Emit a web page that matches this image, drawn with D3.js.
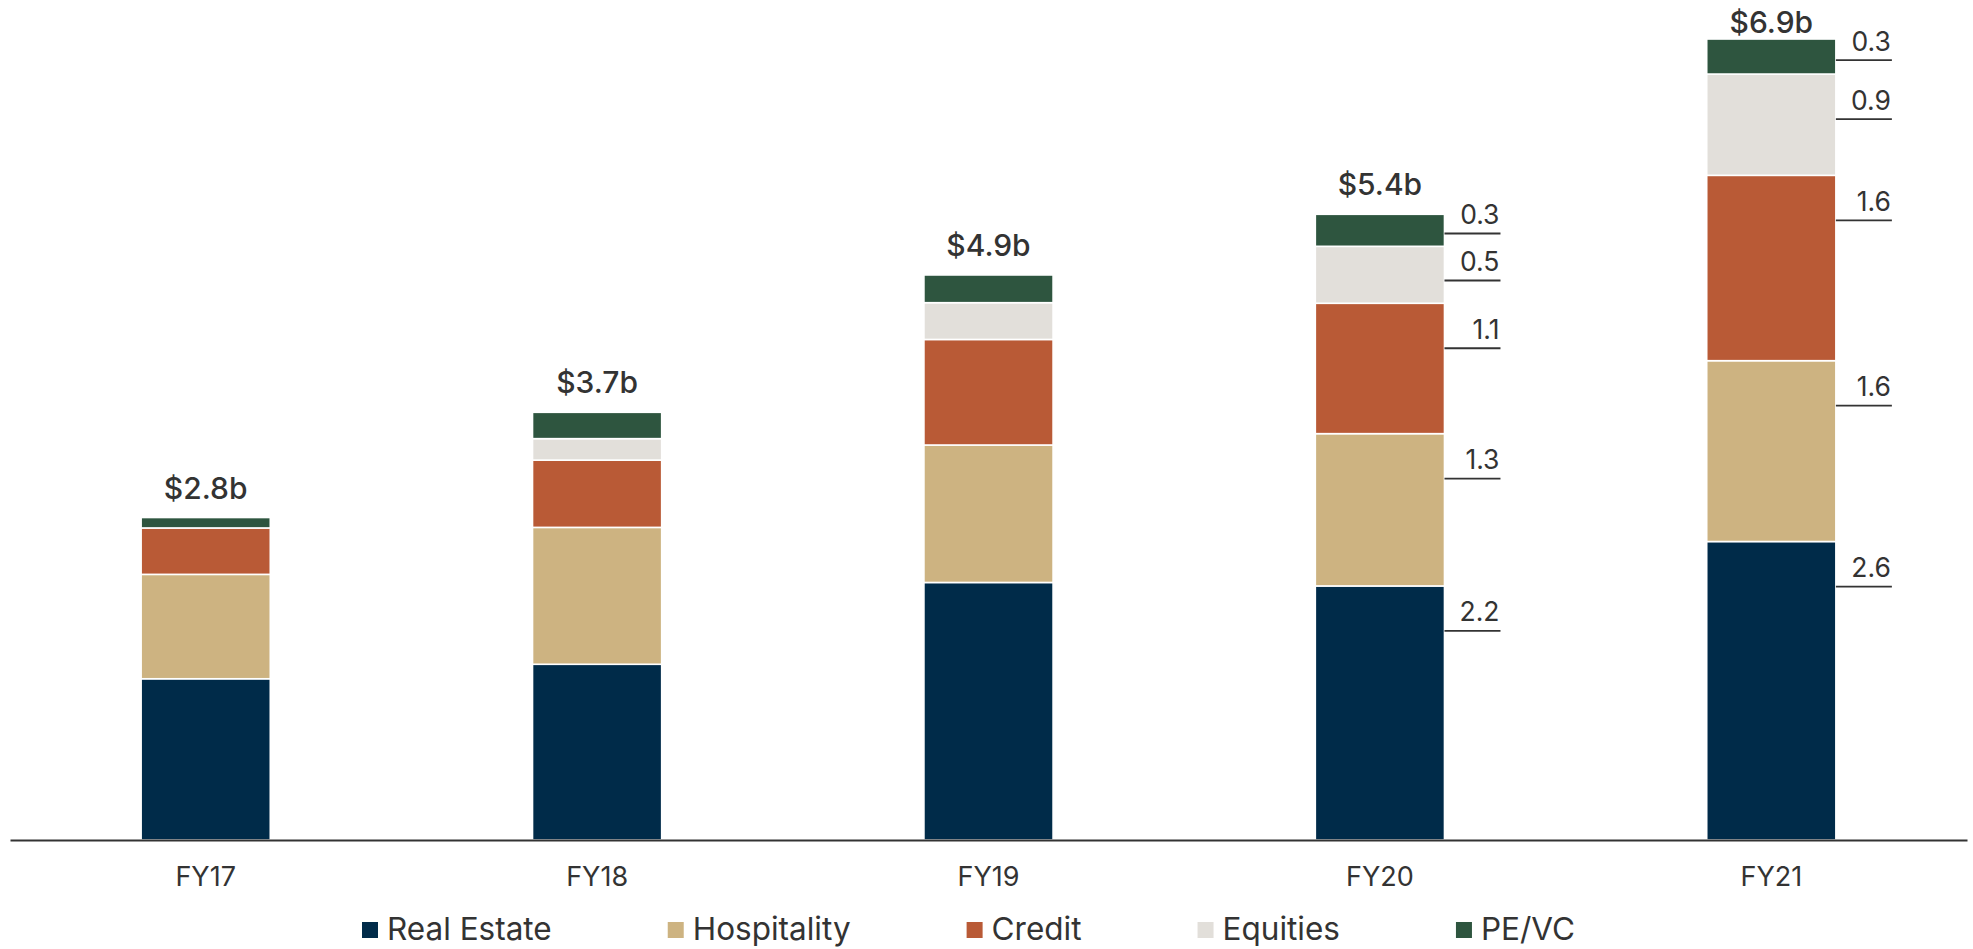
<!DOCTYPE html>
<html>
<head>
<meta charset="utf-8">
<script src="https://cdn.jsdelivr.net/npm/d3@7"></script>
<style>
  html, body { margin: 0; padding: 0; background: #fff; }
  svg { display: block; font-family: Inter, "Noto Sans", sans-serif; }
</style>
</head>
<body>
<svg id="chart" width="1973" height="949"></svg>
<script>
// ---- data ----
const years = ["FY17", "FY18", "FY19", "FY20", "FY21"];
const seriesNames = ["Real Estate", "Hospitality", "Credit", "Equities", "PE/VC"];
const realEstate  = [1.39, 1.515, 2.22, 2.19, 2.573];
const hospitality = [0.90, 1.18, 1.185, 1.313, 1.559];
const credit      = [0.40, 0.58, 0.91, 1.124, 1.598];
const equities    = [0.00, 0.185, 0.317, 0.491, 0.873];
const peVc        = [0.09, 0.227, 0.239, 0.276, 0.302];
const labeledYears = ["FY20", "FY21"];
const colors = ["#002B49", "#CDB381", "#B95A36", "#E2DFDA", "#2E553F"];

const seriesValues = [realEstate, hospitality, credit, equities, peVc];
const table = years.map((yr, i) => {
  const row = { year: yr };
  seriesNames.forEach((s, j) => row[s] = seriesValues[j][i]);
  row.total = d3.sum(seriesValues, v => v[i]);
  return row;
});

const svg = d3.select("#chart");
const baseY = 840;
const x = d3.scaleBand().domain(years).range([10, 1967]).paddingInner(0.67).paddingOuter(0.335);
const y = d3.scaleLinear().domain([0, 7]).range([baseY, baseY - 7 * 116]);

const stack = d3.stack().keys(seriesNames);
const stacked = stack(table);

const textColor = "#333333";

// bars
const layers = svg.append("g").selectAll("g")
  .data(stacked).join("g")
  .attr("fill", (d, i) => colors[i]);

layers.selectAll("rect")
  .data(d => d.filter(p => p[1] - p[0] > 0))
  .join("rect")
  .attr("x", d => x(d.data.year))
  .attr("width", x.bandwidth())
  .attr("y", d => y(d[1]))
  .attr("height", d => y(d[0]) - y(d[1]))
  .attr("stroke", "#fff")
  .attr("stroke-width", 1.6);

// value leader lines & labels
const fmt1 = d3.format(".1f");
const lab = svg.append("g");
stacked.forEach((layer, i) => {
  layer.forEach(p => {
    if (!labeledYears.includes(p.data.year)) return;
    const top = y(p[1]), h = y(p[0]) - y(p[1]);
    const ly = top + Math.min(h * 0.6, 45);
    const x0 = x(p.data.year) + x.bandwidth();
    const x1 = x0 + 56;
    lab.append("line")
      .attr("x1", x0).attr("x2", x1)
      .attr("y1", ly).attr("y2", ly)
      .attr("stroke", textColor).attr("stroke-width", 1.8);
    lab.append("text")
      .attr("x", x1 - 1).attr("y", ly - 9.5)
      .attr("text-anchor", "end")
      .attr("font-size", 26.5)
      .attr("fill", textColor)
      .text(fmt1(p[1] - p[0]));
  });
});

// totals
svg.append("g").selectAll("text")
  .data(table).join("text")
  .attr("x", d => x(d.year) + x.bandwidth() / 2)
  .attr("y", d => Math.max(y(d.total) - 19, 33))
  .attr("text-anchor", "middle")
  .attr("font-size", 30)
  .attr("font-weight", 500)
  .attr("fill", textColor)
  .text(d => "$" + fmt1(d.total) + "b");

// axis
const axis = svg.append("g")
  .attr("transform", `translate(0,${baseY})`)
  .call(d3.axisBottom(x).tickSize(0).tickSizeOuter(0));
axis.select(".domain").attr("stroke", textColor).attr("stroke-width", 2.2);
axis.selectAll(".tick text")
  .attr("y", 46).attr("dy", 0)
  .attr("font-size", 27)
  .attr("font-family", "Inter, 'Noto Sans', sans-serif")
  .attr("fill", textColor);

// legend
const legend = svg.append("g");
let lx = 362;
seriesNames.forEach((s, i) => {
  legend.append("rect")
    .attr("x", lx).attr("y", 922).attr("width", 16).attr("height", 16)
    .attr("fill", colors[i]);
  const t = legend.append("text")
    .attr("x", lx + 25).attr("y", 940)
    .attr("font-size", 31.5)
    .attr("fill", textColor)
    .text(s);
  lx = lx + 25 + t.node().getComputedTextLength() + 116;
});
</script>
</body>
</html>
